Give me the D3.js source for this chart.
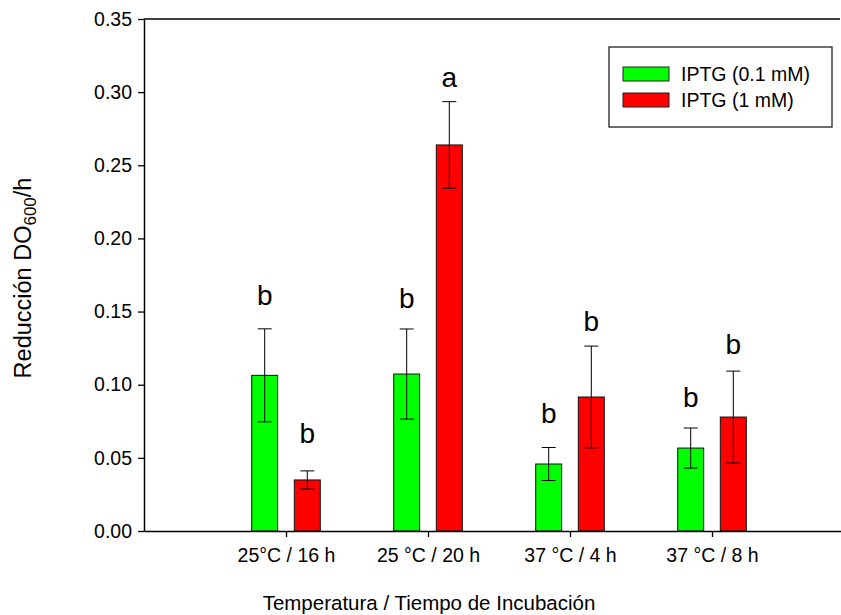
<!DOCTYPE html>
<html>
<head>
<meta charset="utf-8">
<script src="https://cdn.jsdelivr.net/npm/d3@7/dist/d3.min.js"></script>
<style>
  html, body { margin: 0; padding: 0; background: #fff; }
  text { font-family: Arial, "Liberation Sans", sans-serif; fill: #000; }
</style>
</head>
<body>
<svg id="chart" width="841" height="615"></svg>
<script>
// Condiciones de inducción
const categories = ["25°C / 16 h", "25 °C / 20 h", "37 °C / 4 h", "37 °C / 8 h"];
const seriesNames = ["IPTG (0.1 mM)", "IPTG (1 mM)"];
const seriesColors = ["#00ff00", "#ff0000"];

// Reducción DO600/h (media) y error estándar
const lowIPTG = [0.1064, 0.1073, 0.0458, 0.0567];
const lowIPTGerr = [0.0318, 0.0308, 0.0113, 0.0137];
const highIPTG = [0.0349, 0.2639, 0.0916, 0.0779];
const highIPTGerr = [0.0062, 0.0296, 0.0348, 0.0314];

// Letras de significancia y altura (en unidades del eje y) de su línea base
const lowLetters = ["b", "b", "b", "b"];
const lowLetterY = [0.1545, 0.1524, 0.0738, 0.0848];
const highLetters = ["b", "a", "b", "b"];
const highLetterY = [0.0602, 0.3035, 0.1370, 0.1210];

const yTicks = [0, 0.05, 0.10, 0.15, 0.20, 0.25, 0.30, 0.35];

const FONT = "Arial, 'Liberation Sans', sans-serif";
const svg = d3.select("#chart");
svg.append("rect").attr("width", 841).attr("height", 615).attr("fill", "#fff");

const y = d3.scaleLinear().domain([0, 0.35]).range([531, 19]);
const x = d3.scaleLinear().domain([0, 5]).range([144, 854]);
const barW = 0.183;
const offset = 0.15;

const series = [
  { values: lowIPTG, err: lowIPTGerr, letters: lowLetters, letterY: lowLetterY, color: seriesColors[0], dx: -offset },
  { values: highIPTG, err: highIPTGerr, letters: highLetters, letterY: highLetterY, color: seriesColors[1], dx: offset }
];

const plot = svg.append("g");

series.forEach(s => {
  const g = plot.append("g");
  const data = categories.map((c, i) => ({ i, v: s.values[i], e: s.err[i], l: s.letters[i], ly: s.letterY[i] }));
  const cx = d => x(d.i + 1 + s.dx);
  g.selectAll("rect").data(data).join("rect")
    .attr("x", d => x(d.i + 1 + s.dx - barW / 2))
    .attr("width", d => x(barW) - x(0))
    .attr("y", d => y(d.v))
    .attr("height", d => y(0) - y(d.v))
    .attr("fill", s.color)
    .attr("stroke", "#111")
    .attr("stroke-width", 1);
  // barras de error
  g.selectAll("line.stem").data(data).join("line").attr("class", "stem")
    .attr("x1", cx).attr("x2", cx)
    .attr("y1", d => y(d.v - d.e)).attr("y2", d => y(d.v + d.e))
    .attr("stroke", "#000").attr("stroke-width", 1);
  ["+", "-"].forEach(sign => {
    g.selectAll("line.cap" + (sign === "+" ? "u" : "d")).data(data).join("line")
      .attr("class", "cap" + (sign === "+" ? "u" : "d"))
      .attr("x1", d => cx(d) - 7).attr("x2", d => cx(d) + 7)
      .attr("y1", d => y(sign === "+" ? d.v + d.e : d.v - d.e))
      .attr("y2", d => y(sign === "+" ? d.v + d.e : d.v - d.e))
      .attr("stroke", "#000").attr("stroke-width", 1);
  });
  g.selectAll("text").data(data).join("text")
    .attr("x", cx).attr("y", d => y(d.ly))
    .attr("text-anchor", "middle")
    .style("font-size", "28px")
    .text(d => d.l);
});

// Eje y
const yAxis = svg.append("g").attr("transform", "translate(144,0)")
  .call(d3.axisLeft(y).tickValues(yTicks).tickFormat(d3.format(".2f")).tickSize(6).tickSizeOuter(0).tickPadding(6));
yAxis.select(".domain").attr("stroke-width", 1.5);
yAxis.selectAll(".tick line").attr("stroke-width", 1.3);
yAxis.selectAll(".tick text").style("font-size", "19.5px").style("font-family", FONT);

// Línea superior del marco
svg.append("line").attr("x1", 144).attr("x2", 840).attr("y1", y(0.35)).attr("y2", y(0.35))
  .attr("stroke", "#000").attr("stroke-width", 1.5);

// Eje x
const xAxis = svg.append("g").attr("transform", `translate(0,${y(0)})`)
  .call(d3.axisBottom(x).tickValues([1, 2, 3, 4]).tickFormat(d => categories[d - 1]).tickSize(6).tickSizeOuter(0).tickPadding(11));
xAxis.select(".domain").attr("stroke-width", 1.5);
xAxis.selectAll(".tick line").attr("stroke-width", 1.3);
xAxis.selectAll(".tick text").style("font-size", "19.5px").style("font-family", FONT);

// Títulos de los ejes
svg.append("text").attr("x", 429).attr("y", 610).attr("text-anchor", "middle")
  .style("font-size", "20.5px").text("Temperatura / Tiempo de Incubación");

const yl = svg.append("text").attr("transform", "translate(31,278) rotate(-90)")
  .attr("text-anchor", "middle").style("font-size", "23.5px");
yl.append("tspan").text("Reducción DO");
yl.append("tspan").attr("dy", 5).style("font-size", "17px").text("600");
yl.append("tspan").attr("dy", -5).text("/h");

// Leyenda
const legend = svg.append("g");
legend.append("rect").attr("x", 609).attr("y", 47).attr("width", 223).attr("height", 80)
  .attr("fill", "#fff").attr("stroke", "#222").attr("stroke-width", 1.3);
seriesNames.forEach((name, i) => {
  legend.append("rect").attr("x", 623).attr("y", 67 + i * 26).attr("width", 46).attr("height", 14)
    .attr("fill", seriesColors[i]).attr("stroke", "#222").attr("stroke-width", 1);
  legend.append("text").attr("x", 681).attr("y", 74 + i * 26).attr("dy", "0.35em")
    .style("font-size", "19.5px").text(name);
});
</script>
</body>
</html>
